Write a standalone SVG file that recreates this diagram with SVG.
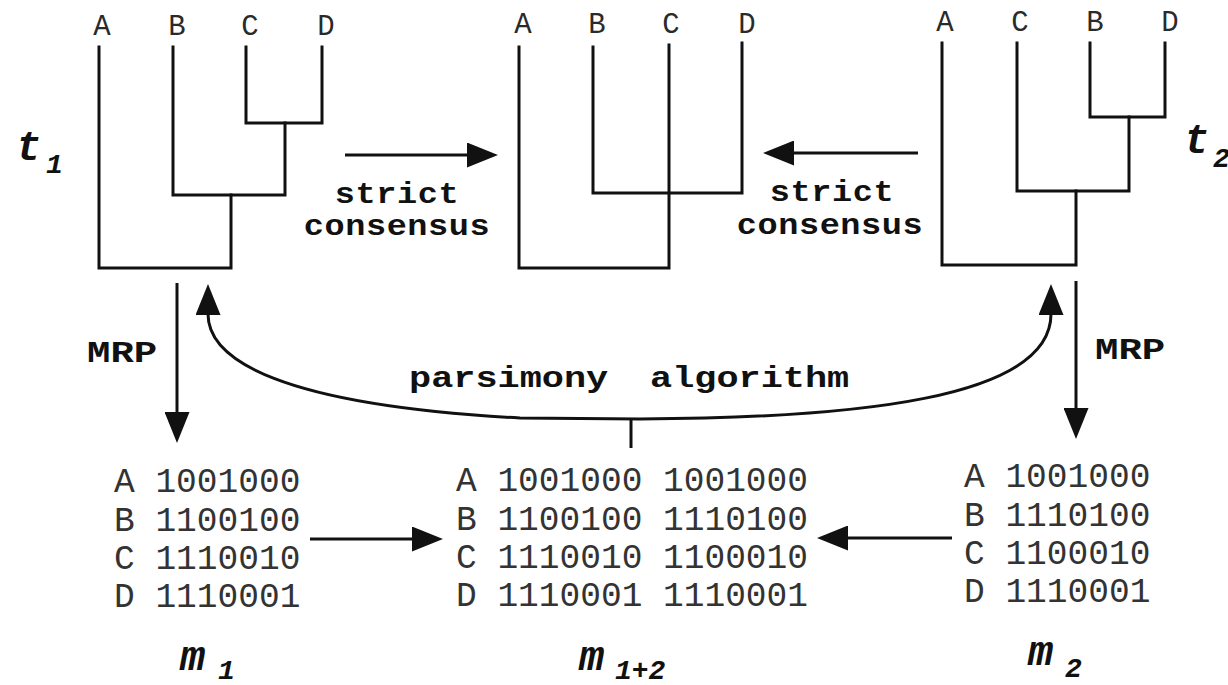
<svg xmlns="http://www.w3.org/2000/svg" width="1228" height="685" viewBox="0 0 1228 685">
  <style>
    .bg { fill: #ffffff; }
    .tree { fill: none; stroke: #111; stroke-width: 3; stroke-linejoin: miter; stroke-linecap: square; }
    .edge { fill: none; stroke: #111; stroke-width: 3; }
    .leaf { font-family: "Liberation Mono", "DejaVu Sans Mono", monospace; font-size: 29px; fill: #2a2a2a; text-anchor: middle; }
    .op { font-family: "Liberation Mono", "DejaVu Sans Mono", monospace; font-size: 30px; font-weight: bold; fill: #111; }
    .mat { font-family: "Liberation Mono", "DejaVu Sans Mono", monospace; font-size: 34.5px; fill: #333; }
    .sym { font-family: "Liberation Mono", "DejaVu Sans Mono", monospace; font-weight: bold; font-style: italic; fill: #111; }
    .big { font-size: 42px; }
    .sub { font-size: 28px; }
  </style>
  <defs>
    <marker id="head" viewBox="0 0 31 25" refX="1" refY="12.5" markerWidth="31" markerHeight="25" markerUnits="userSpaceOnUse" orient="auto-start-reverse">
      <path d="M0,0 L31,12.5 L0,25 Z" fill="#111"/>
    </marker>
  </defs>

  <rect class="bg" x="0" y="0" width="1228" height="685"/>

  <!-- tree t1: (A,(B,(C,D))) -->
  <g id="tree-t1">
    <path class="tree" d="M99,47 V268 H231 V195"/>
    <path class="tree" d="M173,47 V195 H285 V123"/>
    <path class="tree" d="M246,47 V123 H322 V47"/>
    <text class="leaf" x="102" y="35">A</text>
    <text class="leaf" x="177" y="35">B</text>
    <text class="leaf" x="250" y="35">C</text>
    <text class="leaf" x="326" y="35">D</text>
    <text class="sym big" x="16" y="160">t</text>
    <text class="sym sub" x="46" y="173">1</text>
  </g>

  <!-- strict consensus tree: (A,C,(B,D)) -->
  <g id="tree-consensus">
    <path class="tree" d="M519,47 V268 H669 V45"/>
    <path class="tree" d="M593,47 V193 H742 V43"/>
    <text class="leaf" x="523" y="33">A</text>
    <text class="leaf" x="597" y="33">B</text>
    <text class="leaf" x="671" y="33">C</text>
    <text class="leaf" x="747" y="33">D</text>
  </g>

  <!-- tree t2: (A,(C,(B,D))) -->
  <g id="tree-t2">
    <path class="tree" d="M942,43 V265 H1076 V191"/>
    <path class="tree" d="M1017,43 V191 H1129 V117"/>
    <path class="tree" d="M1090,43 V117 H1165 V43"/>
    <text class="leaf" x="945" y="31">A</text>
    <text class="leaf" x="1020" y="31">C</text>
    <text class="leaf" x="1095" y="31">B</text>
    <text class="leaf" x="1170" y="31">D</text>
    <text class="sym big" x="1184" y="153">t</text>
    <text class="sym sub" x="1213" y="167">2</text>
  </g>

  <!-- matrix m1 -->
  <g id="matrix-m1">
    <text class="mat" x="114" y="492">A 1001000</text>
    <text class="mat" x="114" y="531">B 1100100</text>
    <text class="mat" x="114" y="569">C 1110010</text>
    <text class="mat" x="114" y="607">D 1110001</text>
    <text class="sym big" x="180" y="670">m</text>
    <text class="sym sub" x="218" y="679">1</text>
  </g>

  <!-- combined matrix m1+2 -->
  <g id="matrix-m12">
    <text class="mat" x="456" y="491">A 1001000 1001000</text>
    <text class="mat" x="456" y="530">B 1100100 1110100</text>
    <text class="mat" x="456" y="568">C 1110010 1100010</text>
    <text class="mat" x="456" y="606">D 1110001 1110001</text>
    <text class="sym big" x="579" y="670">m</text>
    <text class="sym sub" x="615" y="679">1+2</text>
  </g>

  <!-- matrix m2 -->
  <g id="matrix-m2">
    <text class="mat" x="964" y="487">A 1001000</text>
    <text class="mat" x="964" y="526">B 1110100</text>
    <text class="mat" x="964" y="564">C 1100010</text>
    <text class="mat" x="964" y="602">D 1110001</text>
    <text class="sym big" x="1028" y="665">m</text>
    <text class="sym sub" x="1065" y="677">2</text>
  </g>

  <!-- operation labels (bold mono, widened horizontally) -->
  <g id="labels">
    <text class="op" transform="translate(397,203) scale(1.12,1)" text-anchor="middle" letter-spacing="0.5">strict</text>
    <text class="op" transform="translate(397,235) scale(1.12,1)" text-anchor="middle" letter-spacing="0.5">consensus</text>
    <text class="op" transform="translate(832,201) scale(1.12,1)" text-anchor="middle" letter-spacing="0.5">strict</text>
    <text class="op" transform="translate(830,234) scale(1.12,1)" text-anchor="middle" letter-spacing="0.5">consensus</text>
    <text class="op" transform="translate(87,362) scale(1.3,1)">MRP</text>
    <text class="op" transform="translate(1095,359) scale(1.3,1)">MRP</text>
    <text class="op" transform="translate(409,387) scale(1.23,1)" font-size="31">parsimony</text>
    <text class="op" transform="translate(650,387) scale(1.23,1)" font-size="31">algorithm</text>
  </g>

  <!-- connectors -->
  <g id="connectors">
    <line class="edge" x1="345" y1="155" x2="468" y2="155" marker-end="url(#head)"/>
    <line class="edge" x1="918" y1="153" x2="793" y2="153" marker-end="url(#head)"/>
    <line class="edge" x1="177" y1="283" x2="177" y2="413" marker-end="url(#head)"/>
    <line class="edge" x1="1076" y1="281" x2="1076" y2="409" marker-end="url(#head)"/>
    <line class="edge" x1="310" y1="539" x2="413" y2="539" marker-end="url(#head)"/>
    <line class="edge" x1="952" y1="538" x2="847" y2="538" marker-end="url(#head)"/>
    <path class="edge" d="M208,314 C208,360 280,405 520,418 L640,419 C850,418 1051,400 1051,314" marker-start="url(#head)" marker-end="url(#head)"/>
    <line class="edge" x1="631" y1="418" x2="631" y2="448"/>
  </g>
</svg>
